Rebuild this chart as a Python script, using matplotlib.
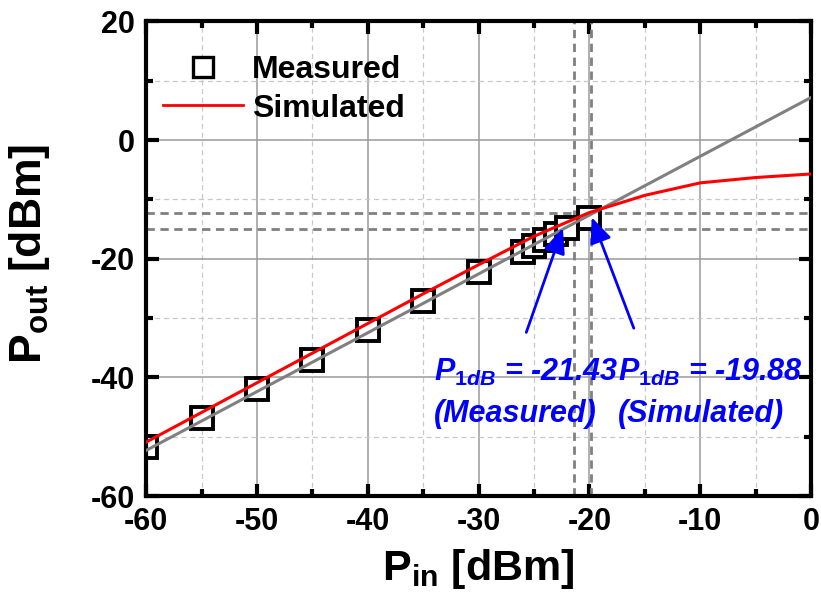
import numpy as np
import matplotlib
matplotlib.use("Agg")
import matplotlib.pyplot as plt
from matplotlib.lines import Line2D

plt.rcParams['font.family'] = ['Liberation Sans', 'DejaVu Sans']
plt.rcParams['font.weight'] = 'bold'
plt.rcParams['axes.unicode_minus'] = False
plt.rcParams['mathtext.fontset'] = 'custom'
plt.rcParams['mathtext.rm'] = 'Liberation Sans:bold'
plt.rcParams['mathtext.bf'] = 'Liberation Sans:bold'
plt.rcParams['mathtext.it'] = 'Liberation Sans:bold:italic'

## data
meas_pin = [-60, -55, -50, -45, -40, -35, -30, -26, -25, -24, -23, -22, -20]
meas_pout = [-51.8, -46.9, -42.0, -37.0, -32.0, -27.1, -22.2, -18.8, -17.8, -16.8, -15.8, -14.8, -13.2]

sim_pin = [-60, -55, -50, -45, -40, -35, -30, -25, -20, -15, -10, -5, 0]
sim_pout = [-50.9, -45.9, -40.9, -35.9, -30.9, -25.9, -21.0, -16.2, -12.2, -9.3, -7.2, -6.3, -5.7]

# ideal linear gain line
lin_pin = [-60, 0]
lin_pout = [-52.3, 7.2]

p1db_meas = -21.43
p1db_sim = -19.88
pout1db_meas = -14.9
pout1db_sim = -12.3

## set up the plot
fig = plt.figure(figsize=(8.21, 5.97), dpi=100)
ax = fig.add_axes([0.178, 0.169, 0.81, 0.795])

ax.set_xlim(-60, 0)
ax.set_ylim(-60, 20)
ax.set_xticks(np.arange(-60, 1, 10))
ax.set_yticks(np.arange(-60, 21, 20))
ax.set_xticks(np.arange(-55, 0, 10), minor=True)
ax.set_yticks(np.arange(-50, 20, 20), minor=True)

ax.grid(which='major', color='#9a9a9a', linewidth=1.1, zorder=0)
ax.grid(which='minor', color='#c8c8c8', linewidth=0.9, linestyle=(0, (4, 3)), zorder=0)
ax.set_axisbelow(True)

# P1dB guide lines
dash = dict(color='#808080', linewidth=2.0, linestyle=(0, (3, 2)), zorder=1)
ax.axvline(p1db_meas, **dash)
ax.axvline(p1db_sim, **dash)
ax.axhline(pout1db_meas, **dash)
ax.axhline(pout1db_sim, **dash)

ax.plot(meas_pin, meas_pout, linestyle='none', marker='s', markersize=16,
        markerfacecolor='white', markeredgecolor='k', markeredgewidth=2.8, zorder=2)
ax.plot(lin_pin, lin_pout, color='#808080', linewidth=2.2, zorder=3)
ax.plot(sim_pin, sim_pout, color='#ff0000', linewidth=2.2, zorder=4)

for s in ax.spines.values():
    s.set_linewidth(3)
ax.tick_params(which='both', direction='in', top=True, right=True, width=3,
               labelsize=22, zorder=5)
ax.tick_params(which='major', length=9, pad=8)
ax.tick_params(which='minor', length=5)

ax.set_xlabel('P$_\\mathregular{in}$ [dBm]', fontsize=31, fontweight='bold', labelpad=7)
ax.set_ylabel('P$_\\mathregular{out}$ [dBm]', fontsize=32, fontweight='bold')
ax.yaxis.set_label_coords(-0.142, 0.51)

## legend
handles = [Line2D([], [], linestyle='none', marker='s', markersize=15,
                  markerfacecolor='white', markeredgecolor='k', markeredgewidth=2.4),
           Line2D([], [], color='#ff0000', linewidth=2.0)]
ax.legend(handles, ['Measured', 'Simulated'], loc='upper left', frameon=False,
          bbox_to_anchor=(0.025, 0.93), fontsize=23, handlelength=2.5,
          handletextpad=0.3, labelspacing=0.28, borderpad=0, borderaxespad=0)

## P1dB annotations
arrow = dict(arrowstyle='-|>,head_length=0.7,head_width=0.3', color='#0000ff',
             linewidth=2, mutation_scale=22, shrinkA=0, shrinkB=0)
ax.annotate('', xy=(-22.4, -14.8), xytext=(-25.7, -32.4), arrowprops=arrow, zorder=6)
ax.annotate('', xy=(-19.8, -13.0), xytext=(-16.0, -31.7), arrowprops=arrow, zorder=6)

txt = dict(color='#0000ff', fontsize=22, fontstyle='italic', fontweight='bold',
           va='baseline', ha='left', zorder=7)
ax.text(-34.0, -40.6, '$\\mathit{P_{1dB}}$ = %.2f' % p1db_meas, **txt)
ax.text(-17.4, -40.6, '$\\mathit{P_{1dB}}$ = %.2f' % p1db_sim, **txt)
ax.text(-34.0, -47.5, '(Measured)', **txt)
ax.text(-17.4, -47.5, '(Simulated)', **txt)

fig.savefig('out.png', dpi=100)
